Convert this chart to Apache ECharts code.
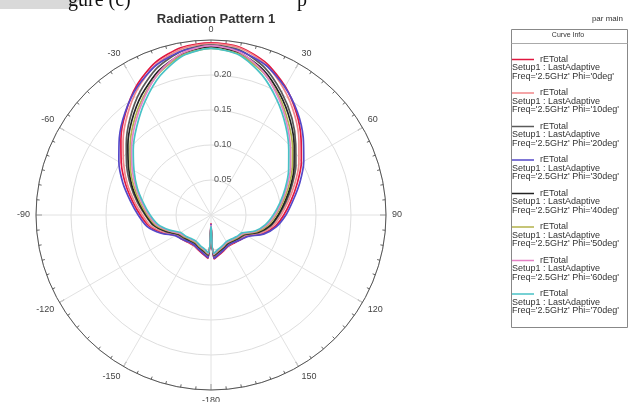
<!DOCTYPE html>
<html>
<head>
<meta charset="utf-8">
<script src="https://cdn.jsdelivr.net/npm/echarts@6/dist/echarts.min.js"></script>
<style>html,body{margin:0;padding:0;background:#fff}#c{width:629px;height:402px}</style>
</head>
<body>
<div id="c"></div>
<script>
// ---- data ----
const thetas = [-180,-176,-170,-160,-150,-140,-130,-120,-110,-100,-90,-80,-70,-60,-50,-40,-30,-20,-10,0,10,20,30,40,50,60,70,80,90,100,110,120,130,140,150,160,170,176,180];
const phiLabels = ['0deg','10deg','20deg','30deg','40deg','50deg','60deg','70deg'];
const colors = ['#e0173f','#f2878a','#5a5a5a','#5548c8','#222222','#b3b24a','#e483c6','#48c2c6'];
const rPhi0  = [0.012,0.062,0.058,0.053,0.050,0.051,0.054,0.058,0.074,0.090,0.101,0.114,0.130,0.148,0.168,0.190,0.213,0.232,0.243,0.246,0.243,0.231,0.212,0.190,0.168,0.149,0.131,0.116,0.104,0.093,0.078,0.060,0.055,0.052,0.051,0.054,0.059,0.063,0.012];
const rPhi10 = [0.014,0.060,0.056,0.052,0.049,0.050,0.053,0.057,0.072,0.088,0.098,0.111,0.127,0.144,0.164,0.186,0.209,0.229,0.241,0.245,0.242,0.229,0.208,0.186,0.164,0.145,0.127,0.112,0.100,0.090,0.076,0.058,0.054,0.051,0.050,0.053,0.057,0.061,0.014];
const rPhi20 = [0.015,0.058,0.054,0.050,0.047,0.048,0.051,0.055,0.069,0.084,0.094,0.107,0.122,0.139,0.158,0.180,0.203,0.224,0.238,0.243,0.239,0.224,0.202,0.180,0.158,0.140,0.123,0.109,0.097,0.087,0.073,0.056,0.052,0.049,0.048,0.051,0.055,0.059,0.015];
const rPhi30 = [0.013,0.061,0.057,0.052,0.049,0.050,0.054,0.059,0.076,0.093,0.104,0.117,0.134,0.152,0.171,0.191,0.211,0.228,0.238,0.241,0.238,0.228,0.211,0.192,0.172,0.153,0.135,0.119,0.107,0.095,0.080,0.061,0.055,0.051,0.050,0.053,0.058,0.062,0.013];
const rPhi40 = [0.016,0.057,0.053,0.049,0.046,0.047,0.050,0.054,0.068,0.083,0.093,0.105,0.120,0.136,0.155,0.176,0.198,0.219,0.234,0.240,0.235,0.220,0.198,0.176,0.155,0.137,0.121,0.107,0.096,0.086,0.072,0.055,0.051,0.048,0.047,0.050,0.054,0.058,0.016];
const rPhi50 = [0.015,0.056,0.052,0.048,0.045,0.046,0.049,0.053,0.066,0.081,0.091,0.103,0.117,0.133,0.151,0.172,0.194,0.216,0.232,0.238,0.233,0.217,0.195,0.172,0.152,0.134,0.118,0.104,0.093,0.083,0.070,0.054,0.050,0.047,0.046,0.049,0.053,0.057,0.015];
const rPhi60 = [0.014,0.055,0.051,0.047,0.044,0.045,0.048,0.052,0.065,0.079,0.089,0.100,0.114,0.130,0.148,0.169,0.192,0.217,0.235,0.242,0.236,0.218,0.193,0.169,0.148,0.131,0.115,0.102,0.091,0.081,0.068,0.053,0.049,0.046,0.045,0.048,0.052,0.056,0.014];
const rPhi70 = [0.016,0.054,0.050,0.046,0.043,0.044,0.047,0.050,0.063,0.077,0.087,0.098,0.112,0.127,0.145,0.165,0.188,0.212,0.231,0.238,0.232,0.213,0.189,0.166,0.145,0.128,0.113,0.100,0.089,0.079,0.067,0.051,0.048,0.045,0.044,0.047,0.051,0.055,0.016];
const radialTicks = [0, 0.25, 0.05];
const angleTicks = [0, 360, 30];

const allR = [rPhi0,rPhi10,rPhi20,rPhi30,rPhi40,rPhi50,rPhi60,rPhi70];
const names = phiLabels.map(p => "Phi='" + p + "'");

const rich = { t: { padding: [0,0,0,6] } };
colors.forEach((c,i) => { rich['s'+i] = { width: 22, height: 1.5, backgroundColor: c }; });

const series = allR.map((arr, i) => ({
  name: names[i],
  type: 'line',
  coordinateSystem: 'polar',
  showSymbol: false,
  smooth: 0.25,
  lineStyle: { width: 1.7, color: colors[i] },
  itemStyle: { color: colors[i] },
  data: arr.map((r, k) => [r, thetas[k] < 0 ? thetas[k] + 360 : thetas[k]])
}));

const chart = echarts.init(document.getElementById('c'), null, { renderer: 'canvas' });
chart.setOption({
  animation: false,
  backgroundColor: '#fff',
  textStyle: { fontFamily: 'Liberation Sans, Arial, sans-serif' },
  title: {
    text: 'Radiation Pattern 1',
    left: 211, top: 8, textAlign: 'center',
    textStyle: { fontSize: 13, fontWeight: 'bold', color: '#333', fontFamily: 'Liberation Sans, Arial, sans-serif' }
  },
  polar: { center: [211, 215], radius: 175 },
  angleAxis: {
    type: 'value', min: angleTicks[0], max: angleTicks[1], interval: angleTicks[2],
    startAngle: 90, clockwise: true,
    axisLine: { show: true, lineStyle: { color: '#555', width: 1 } },
    axisTick: { show: true, inside: true, length: 6, lineStyle: { color: '#555' } },
    minorTick: { show: true, splitNumber: 6, length: 3, lineStyle: { color: '#666' } },
    axisLabel: { fontSize: 9, color: '#444', margin: 6,
      formatter: v => (v >= 180 && v < 360 ? v - 360 : v) + '' },
    splitLine: { show: true, lineStyle: { color: '#e2e2e2', width: 1 } }
  },
  radiusAxis: {
    type: 'value', min: radialTicks[0], max: radialTicks[1], interval: radialTicks[2],
    axisLine: { show: false }, axisTick: { show: false },
    axisLabel: { fontSize: 9, color: '#555', showMinLabel: false, showMaxLabel: false,
      formatter: v => v.toFixed(2), align: 'left', margin: -3 },
    splitLine: { show: true, lineStyle: { color: '#dedede', width: 1 } }
  },
  legend: {
    orient: 'vertical', left: 502, top: 50, itemGap: 7.5,
    icon: 'rect', itemWidth: 0, itemHeight: 0, selectedMode: false,
    data: names,
    formatter: name => {
      const i = names.indexOf(name);
      return '{s' + i + '|}{t|rETotal}\nSetup1 : LastAdaptive\nFreq=\'2.5GHz\' ' + name;
    },
    textStyle: { fontSize: 9, lineHeight: 8.5, color: '#333', rich: rich, fontFamily: 'Liberation Sans, Arial, sans-serif' }
  },
  graphic: [
    { type: 'polygon', shape: { points: [[0,0],[80,0],[69,9],[0,9]] }, style: { fill: '#d9d9d9' }, silent: true },
    { type: 'text', x: 68, y: 1, style: { text: 'gure (c)', font: '20px "Liberation Serif", serif', fill: '#111', verticalAlign: 'middle' } },
    { type: 'text', x: 297, y: 1, style: { text: 'p', font: '20px "Liberation Serif", serif', fill: '#111', verticalAlign: 'middle' } },
    { type: 'text', x: 623, y: 15, style: { text: 'par main', font: '8px "Liberation Sans", Arial', fill: '#333', align: 'right' } },
    { type: 'rect', shape: { x: 511.5, y: 29.5, width: 116, height: 298 }, style: { fill: 'none', stroke: '#888', lineWidth: 1 } },
    { type: 'line', shape: { x1: 511.5, y1: 43.5, x2: 627.5, y2: 43.5 }, style: { stroke: '#aaa', lineWidth: 1 } },
    { type: 'text', x: 568, y: 32, style: { text: 'Curve Info', font: '7px "Liberation Sans", Arial', fill: '#333', align: 'center' } }
  ],
  series: series
});
</script>
</body>
</html>
